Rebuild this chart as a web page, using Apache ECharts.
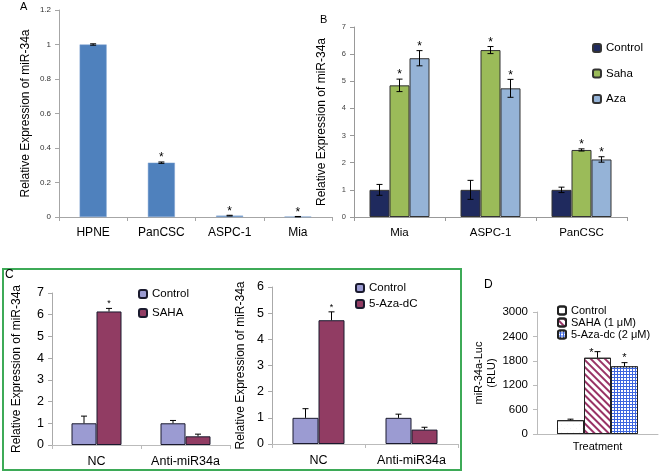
<!DOCTYPE html>
<html>
<head>
<meta charset="utf-8">
<script src="https://cdn.jsdelivr.net/npm/echarts@6/dist/echarts.min.js"></script>
<style>html,body{margin:0;padding:0;background:#fff;}#chart{width:661px;height:475px;}</style>
</head>
<body>
<div id="chart"></div>
<script>
// ---------- DATA ----------
// Panel A
const catsA = ['HPNE', 'PanCSC', 'ASPC-1', 'Mia'];
const valsA = [1.0, 0.315, 0.008, 0.002];
const errA = [0.004, 0.004, 0.002, 0.001];
const starA = [0, 1, 1, 1];
const ticksA = { min: 0, max: 1.2, interval: 0.2 };

// Panel B
const catsB = ['Mia', 'ASPC-1', 'PanCSC'];
const bControl = [1.0, 1.0, 1.0];
const bControlErr = [0.2, 0.35, 0.1];
const bControlStar = [0, 0, 0];
const bSaha = [4.85, 6.15, 2.47];
const bSahaErr = [0.23, 0.13, 0.04];
const bSahaStar = [1, 1, 1];
const bAza = [5.85, 4.74, 2.12];
const bAzaErr = [0.28, 0.33, 0.1];
const bAzaStar = [1, 1, 1];
const ticksB = { min: 0, max: 7, interval: 1 };

// Panel C (left)
const catsC = ['NC', 'Anti-miR34a'];
const c1Control = [1.0, 1.0];
const c1ControlErr = [0.33, 0.13];
const c1ControlStar = [0, 0];
const c1Saha = [6.15, 0.4];
const c1SahaErr = [0.14, 0.1];
const c1SahaStar = [1, 0];
const ticksC1 = { min: 0, max: 7, interval: 1 };

// Panel C (right)
const c2Control = [1.0, 1.0];
const c2ControlErr = [0.35, 0.14];
const c2ControlStar = [0, 0];
const c2Aza = [4.73, 0.55];
const c2AzaErr = [0.32, 0.09];
const c2AzaStar = [1, 0];
const ticksC2 = { min: 0, max: 6, interval: 1 };

// Panel D
const catsD = ['Treatment'];
const dControl = [340];
const dControlErr = [25];
const dControlStar = [0];
const dSaha = [1875];
const dSahaErr = [150];
const dSahaStar = [1];
const dAza = [1665];
const dAzaErr = [90];
const dAzaStar = [1];
const ticksD = { min: 0, max: 3000, interval: 600 };

// ---------- HELPERS ----------
const FONT = 'Liberation Sans, Arial, sans-serif';

function errSeries(idx, vals, errs, stars, offset, opt) {
  return {
    type: 'custom',
    xAxisIndex: idx, yAxisIndex: idx,
    z: 10, silent: true, clip: false,
    data: vals.map((v, i) => [i, v, errs[i], stars[i]]),
    renderItem: function (params, api) {
      const i = api.value(0), v = api.value(1), e = api.value(2), s = api.value(3);
      const base = api.coord([i, v]);
      const x = base[0] + offset;
      const top = api.coord([i, v + e])[1];
      const bot = opt.both ? api.coord([i, Math.max(0, v - e)])[1] : base[1];
      const ls = { stroke: '#000', lineWidth: 1 };
      const ch = [];
      if (e > 0) {
        ch.push({ type: 'line', shape: { x1: x, y1: bot, x2: x, y2: top }, style: ls });
        ch.push({ type: 'line', shape: { x1: x - opt.cap, y1: top, x2: x + opt.cap, y2: top }, style: ls });
        if (opt.both) ch.push({ type: 'line', shape: { x1: x - opt.cap, y1: bot, x2: x + opt.cap, y2: bot }, style: ls });
      }
      if (s) {
        ch.push({ type: 'text', x: x + (opt.starDx || 0), y: top + opt.starDy,
          style: { text: '*', fill: '#000', font: opt.starSize + 'px ' + FONT, align: 'center', verticalAlign: 'bottom' } });
      }
      return { type: 'group', children: ch };
    }
  };
}

function barSeries(idx, name, vals, color, w, extra) {
  return Object.assign({
    type: 'bar', name: name, xAxisIndex: idx, yAxisIndex: idx,
    data: vals, barWidth: w, barGap: '0%',
    itemStyle: { color: color },
    emphasis: { disabled: true }
  }, extra || {});
}

function yAx(idx, t, o) {
  return {
    type: 'value', gridIndex: idx, min: t.min, max: t.max, interval: t.interval,
    axisLine: { show: true, lineStyle: { color: o.lineColor || '#999' } },
    axisTick: { show: true, length: 4, lineStyle: { color: o.lineColor || '#999' } },
    splitLine: { show: false },
    axisLabel: { fontSize: o.labelSize, color: o.labelColor || '#000', margin: o.margin || 8, fontFamily: FONT,
      formatter: v => String(Math.round(v * 100) / 100) },
    name: o.name, nameLocation: 'middle', nameGap: o.nameGap, nameRotate: 90,
    nameTextStyle: Object.assign({ fontSize: o.nameSize || 12, color: '#000', fontFamily: FONT }, o.nameStyle || {})
  };
}

function xAx(idx, cats, o) {
  return {
    type: 'category', gridIndex: idx, data: cats,
    axisLine: { show: true, lineStyle: { color: o.lineColor || '#999' } },
    axisTick: { show: o.tick !== false, length: 4, lineStyle: { color: o.lineColor || '#999' } },
    axisLabel: { interval: 0, fontSize: o.labelSize, color: '#000', margin: o.margin || 10, fontFamily: FONT },
    splitLine: { show: false }
  };
}

const strip = n => n.split('@')[0];

// ---------- OPTION ----------
const option = {
  animation: false,
  backgroundColor: '#fff',
  textStyle: { fontFamily: FONT },
  grid: [
    { left: 59, top: 10, width: 273, height: 207 },   // A
    { left: 354, top: 27, width: 273, height: 190 },  // B
    { left: 52, top: 293, width: 178, height: 152 },  // C left
    { left: 272, top: 287, width: 186, height: 157 }, // C right
    { left: 537, top: 312, width: 121, height: 122 }  // D
  ],
  xAxis: [
    xAx(0, catsA, { labelSize: 12, lineColor: '#a6a6a6' }),
    xAx(1, catsB, { labelSize: 11.5, lineColor: '#999' }),
    xAx(2, catsC, { labelSize: 12.5, lineColor: '#bbb' }),
    xAx(3, catsC, { labelSize: 12.5, lineColor: '#bbb' }),
    xAx(4, catsD, { labelSize: 11, lineColor: '#bbb', tick: false, margin: 7 })
  ],
  yAxis: [
    yAx(0, ticksA, { labelSize: 8, labelColor: '#333', name: 'Relative Expression of miR-34a', nameGap: 27, lineColor: '#a6a6a6' }),
    yAx(1, ticksB, { labelSize: 7.5, labelColor: '#444', name: 'Relative Expression of miR-34a', nameGap: 26, lineColor: '#999' }),
    yAx(2, ticksC1, { labelSize: 12.5, name: 'Relative Expression of miR-34a', nameGap: 29, lineColor: '#aaa' }),
    yAx(3, ticksC2, { labelSize: 12.5, name: 'Relative Expression of miR-34a', nameGap: 25, lineColor: '#aaa' }),
    yAx(4, ticksD, { labelSize: 11.5, name: 'miR-34a-Luc\n(RLU)', nameGap: 37, nameSize: 11, lineColor: '#bbb', margin: 9,
      nameStyle: { lineHeight: 13 } })
  ],
  legend: [
    { left: 592, top: 42, padding: 0, orient: 'vertical', itemWidth: 8, itemHeight: 8, itemGap: 13.5,
      data: ['Control@B', 'Saha@B', 'Aza@B'], formatter: strip,
      textStyle: { fontSize: 11.5, color: '#000', fontFamily: FONT } },
    { left: 138, top: 288, padding: 0, orient: 'vertical', itemWidth: 8, itemHeight: 8, itemGap: 7,
      data: ['Control@C1', 'SAHA@C1'], formatter: strip,
      textStyle: { fontSize: 11.5, color: '#000', fontFamily: FONT } },
    { left: 355, top: 282, padding: 0, orient: 'vertical', itemWidth: 8, itemHeight: 8, itemGap: 4,
      data: ['Control@C2', '5-Aza-dC@C2'], formatter: strip,
      textStyle: { fontSize: 11.5, color: '#000', fontFamily: FONT } },
    { left: 557, top: 305, padding: 0, orient: 'vertical', itemWidth: 8, itemHeight: 8, itemGap: 1,
      data: ['Control@D', 'SAHA (1 μM)@D', '5-Aza-dc (2 μM)@D'], formatter: strip,
      textStyle: { fontSize: 11, color: '#000', fontFamily: FONT } }
  ],
  series: [
    // A
    barSeries(0, 'A', valsA, '#4f81bd', 27, { itemStyle: { color: '#4f81bd', borderColor: '#7ea3d0', borderWidth: 0.5 } }),
    errSeries(0, valsA, errA, starA, 0, { both: true, cap: 3, starSize: 12, starDy: 2 }),
    // B
    barSeries(1, 'Control@B', bControl, '#1f2a5e', 20, { itemStyle: { color: '#1f2a5e', borderColor: '#333', borderWidth: 1 } }),
    barSeries(1, 'Saha@B', bSaha, '#9bbb59', 20, { itemStyle: { color: '#9bbb59', borderColor: '#333', borderWidth: 1 } }),
    barSeries(1, 'Aza@B', bAza, '#95b3d7', 20, { itemStyle: { color: '#95b3d7', borderColor: '#333', borderWidth: 1 } }),
    errSeries(1, bControl, bControlErr, bControlStar, -20, { both: true, cap: 3, starSize: 12, starDy: 2 }),
    errSeries(1, bSaha, bSahaErr, bSahaStar, 0, { both: true, cap: 3, starSize: 12, starDy: 2 }),
    errSeries(1, bAza, bAzaErr, bAzaStar, 20, { both: true, cap: 3, starSize: 12, starDy: 2 }),
    // C left
    barSeries(2, 'Control@C1', c1Control, '#9b9bd2', 25, { itemStyle: { color: '#9b9bd2', borderColor: '#1a1a2e', borderWidth: 1 } }),
    barSeries(2, 'SAHA@C1', c1Saha, '#913c63', 25, { itemStyle: { color: '#913c63', borderColor: '#1a1a2e', borderWidth: 1 } }),
    errSeries(2, c1Control, c1ControlErr, c1ControlStar, -12.5, { both: false, cap: 3, starSize: 9, starDy: 0 }),
    errSeries(2, c1Saha, c1SahaErr, c1SahaStar, 12.5, { both: false, cap: 3, starSize: 9, starDy: 0 }),
    // C right
    barSeries(3, 'Control@C2', c2Control, '#9b9bd2', 26, { itemStyle: { color: '#9b9bd2', borderColor: '#1a1a2e', borderWidth: 1 } }),
    barSeries(3, '5-Aza-dC@C2', c2Aza, '#913c63', 26, { itemStyle: { color: '#913c63', borderColor: '#1a1a2e', borderWidth: 1 } }),
    errSeries(3, c2Control, c2ControlErr, c2ControlStar, -13, { both: false, cap: 3, starSize: 9, starDy: 0 }),
    errSeries(3, c2Aza, c2AzaErr, c2AzaStar, 13, { both: false, cap: 3, starSize: 9, starDy: 0 }),
    // D
    barSeries(4, 'Control@D', dControl, '#ffffff', 27, { itemStyle: { color: '#ffffff', borderColor: '#222', borderWidth: 1,
      decal: { symbol: 'circle', symbolSize: 0.5, dashArrayX: [[1, 5], [0, 3, 1, 2]], dashArrayY: [1, 3], color: '#bbb' } } }),
    barSeries(4, 'SAHA (1 μM)@D', dSaha, '#ffffff', 27, { itemStyle: { color: '#ffffff', borderColor: '#222', borderWidth: 1,
      decal: { symbol: 'rect', symbolSize: 1, dashArrayX: [1, 0], dashArrayY: [2, 3], rotation: Math.PI / 4, color: '#993366' } } }),
    barSeries(4, '5-Aza-dc (2 μM)@D', dAza, '#3d66e0', 27, { itemStyle: { color: '#3d66e0', borderColor: '#222', borderWidth: 1,
      decal: { symbol: 'rect', symbolSize: 1, dashArrayX: [2, 1], dashArrayY: [2, 1], color: '#ffffff' } } }),
    errSeries(4, dControl, dControlErr, dControlStar, -27, { both: false, cap: 3, starSize: 11, starDy: 1 }),
    errSeries(4, dSaha, dSahaErr, dSahaStar, 0, { both: false, cap: 3, starSize: 11, starDy: 7, starDx: -6 }),
    errSeries(4, dAza, dAzaErr, dAzaStar, 27, { both: false, cap: 3, starSize: 11, starDy: 1 })
  ],
  graphic: [
    { type: 'rect', shape: { x: 3, y: 269, width: 458, height: 201 }, style: { fill: 'none', stroke: '#3daa57', lineWidth: 2 }, silent: true },
    { type: 'text', left: 20, top: 1, style: { text: 'A', font: '11px ' + FONT, fill: '#000' } },
    { type: 'text', left: 320, top: 14, style: { text: 'B', font: '11px ' + FONT, fill: '#000' } },
    { type: 'text', left: 5, top: 269, style: { text: 'C', font: '12px ' + FONT, fill: '#000' } },
    { type: 'text', left: 484, top: 279, style: { text: 'D', font: '12px ' + FONT, fill: '#000' } }
  ]
};

const chart = echarts.init(document.getElementById('chart'), null, { renderer: 'canvas' });
chart.setOption(option);
</script>
</body>
</html>
